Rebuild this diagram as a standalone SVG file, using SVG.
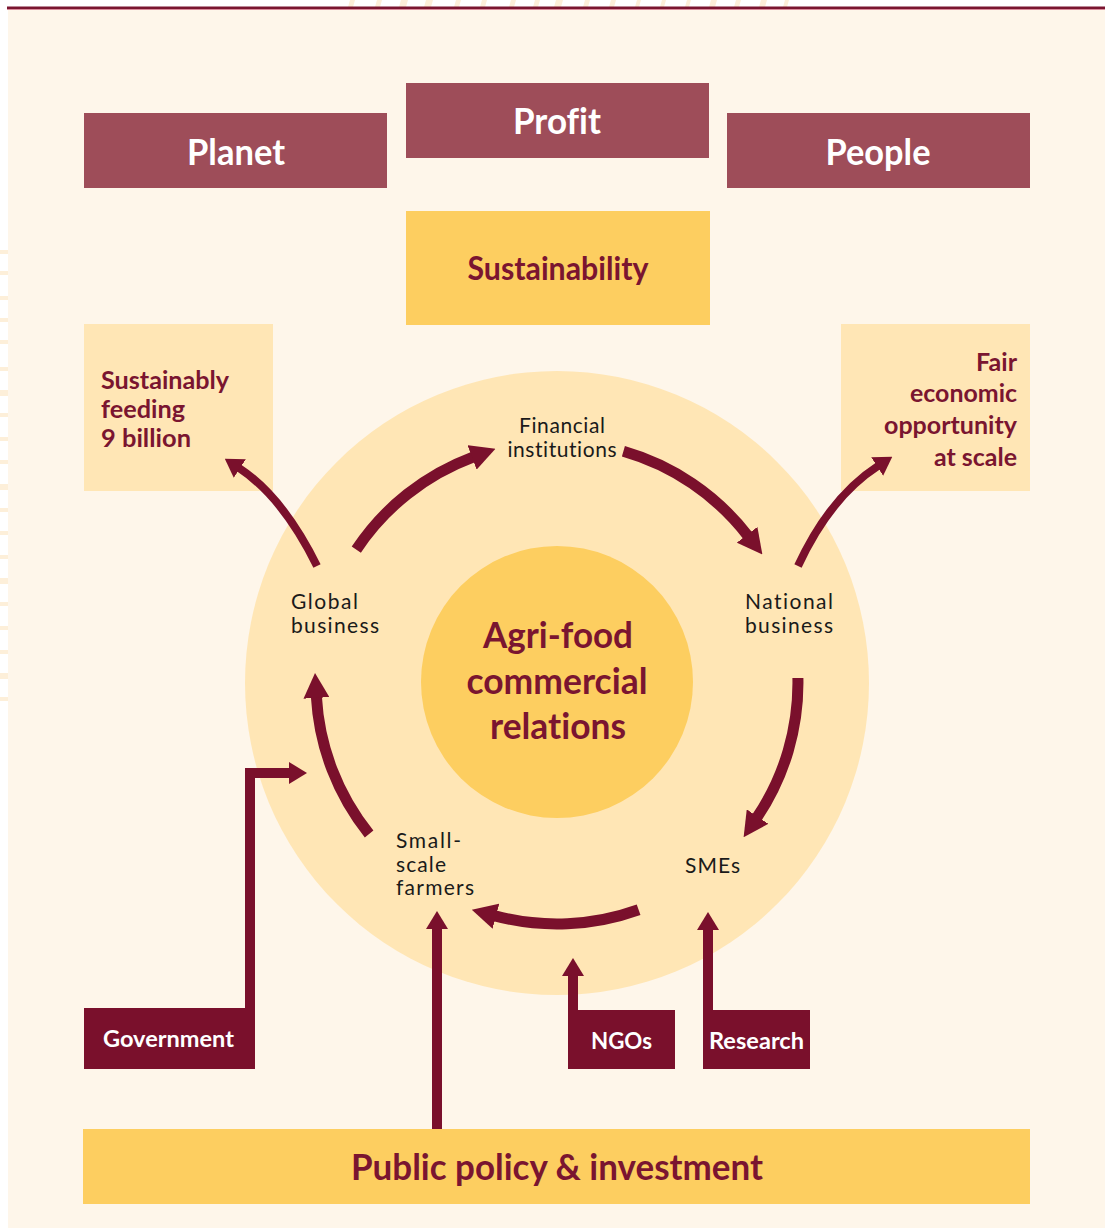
<svg xmlns="http://www.w3.org/2000/svg" width="1105" height="1228" viewBox="0 0 1105 1228">
  <defs>
    <style>
      text { font-variant-ligatures: none; }
      .band { fill: #9E4D59; }
      .gold { fill: #FDCE60; }
      .pale { fill: #FFE6B5; }
      .dark { fill: #7A102C; }
      .hw { font-family: Lato, "Noto Sans", sans-serif; font-weight: 700; fill: #FFFFFF; }
      .hm { font-family: Lato, "Noto Sans", sans-serif; font-weight: 700; fill: #7A1530; }
      .lbl { font-family: Lato, "Noto Sans", sans-serif; font-size: 21px; fill: #1A1A1A; }
      .arc { fill: none; stroke: #7A102C; stroke-width: 11; }
      .thin { fill: none; stroke: #7A102C; stroke-width: 8; }
      .bar { fill: none; stroke: #7A102C; stroke-width: 10; }
      .stripe { fill: #FDEFD9; }
    </style>
    <marker id="head" markerUnits="userSpaceOnUse" viewBox="0 0 25 26" markerWidth="25" markerHeight="26" refX="1" refY="13" orient="auto">
      <path d="M0,0 L25,13 L0,26 Z" fill="#7A102C"/>
    </marker>
    <marker id="headS" markerUnits="userSpaceOnUse" viewBox="0 0 18 22" markerWidth="18" markerHeight="22" refX="1" refY="11" orient="auto">
      <path d="M0,0 L18,11 L0,22 Z" fill="#7A102C"/>
    </marker>
  </defs>

  <!-- background -->
  <rect x="0" y="0" width="1105" height="1228" fill="#FFFFFF"/>
  <g id="decor">
    <g class="stripe">
      <path d="M350,0 h5 l-2,7 h-5 Z"/><path d="M377,0 h5 l-2,7 h-5 Z"/><path d="M401,0 h7 l-2,7 h-7 Z"/>
      <path d="M426,0 h7 l-2,7 h-7 Z"/><path d="M456,0 h5 l-2,7 h-5 Z"/><path d="M482,0 h5 l-2,7 h-5 Z"/>
      <path d="M511,0 h5 l-2,7 h-5 Z"/><path d="M535,0 h5 l-2,7 h-5 Z"/><path d="M556,0 h7 l-2,7 h-7 Z"/>
      <path d="M585,0 h5 l-2,7 h-5 Z"/><path d="M611,0 h5 l-2,7 h-5 Z"/><path d="M637,0 h4 l-2,7 h-4 Z"/>
      <path d="M662,0 h4 l-2,7 h-4 Z"/><path d="M687,0 h4 l-2,7 h-4 Z"/><path d="M711,0 h6 l-2,7 h-6 Z"/>
      <path d="M736,0 h5 l-2,7 h-5 Z"/><path d="M761,0 h6 l-2,7 h-6 Z"/><path d="M785,0 h4 l-2,7 h-4 Z"/>
      <rect x="0" y="250" width="8" height="4"/><rect x="0" y="271" width="8" height="4"/><rect x="0" y="296" width="8" height="4"/>
      <rect x="0" y="318" width="8" height="4"/><rect x="0" y="340" width="8" height="4"/><rect x="0" y="367" width="8" height="4"/>
      <rect x="0" y="390" width="8" height="6"/><rect x="0" y="413" width="8" height="4"/><rect x="0" y="437" width="8" height="4"/>
      <rect x="0" y="460" width="8" height="4"/><rect x="0" y="484" width="8" height="6"/><rect x="0" y="508" width="8" height="4"/>
      <rect x="0" y="531" width="8" height="4"/><rect x="0" y="555" width="8" height="4"/><rect x="0" y="578" width="8" height="6"/>
      <rect x="0" y="602" width="8" height="4"/><rect x="0" y="626" width="8" height="4"/><rect x="0" y="650" width="8" height="4"/>
      <rect x="0" y="673" width="8" height="6"/><rect x="0" y="697" width="8" height="4"/>
    </g>
  </g>
  <rect x="8" y="10" width="1097" height="1218" fill="#FEF6EA"/>
  <rect x="7" y="6.5" width="1098" height="2.5" fill="#7A1530"/>
  <rect x="7" y="9" width="1098" height="1" fill="#D98A9A"/>

  <!-- circles -->
  <g id="outer-circle"><circle cx="557" cy="683" r="312" class="pale"/></g>
  <g id="core">
    <circle cx="557" cy="682" r="136" class="gold"/>
    <text class="hm" font-size="37" text-anchor="middle" x="558" y="648" textLength="150" lengthAdjust="spacingAndGlyphs">Agri-food</text>
    <text class="hm" font-size="37" text-anchor="middle" x="557" y="694" textLength="181" lengthAdjust="spacingAndGlyphs">commercial</text>
    <text class="hm" font-size="37" text-anchor="middle" x="558" y="739" textLength="136" lengthAdjust="spacingAndGlyphs">relations</text>
  </g>

  <!-- top boxes -->
  <g id="planet">
    <rect x="84" y="113" width="303" height="75" class="band"/>
    <text class="hw" font-size="37" text-anchor="middle" x="236" y="165" textLength="98" lengthAdjust="spacingAndGlyphs">Planet</text>
  </g>
  <g id="profit">
    <rect x="406" y="83" width="303" height="75" class="band"/>
    <text class="hw" font-size="37" text-anchor="middle" x="557" y="134" textLength="88" lengthAdjust="spacingAndGlyphs">Profit</text>
  </g>
  <g id="people">
    <rect x="727" y="113" width="303" height="75" class="band"/>
    <text class="hw" font-size="37" text-anchor="middle" x="878" y="165" textLength="105" lengthAdjust="spacingAndGlyphs">People</text>
  </g>
  <g id="sustainability">
    <rect x="406" y="211" width="304" height="114" class="gold"/>
    <text class="hm" font-size="32" text-anchor="middle" x="558" y="280" textLength="181" lengthAdjust="spacingAndGlyphs">Sustainability</text>
  </g>

  <!-- side boxes -->
  <g id="feeding">
    <rect x="84" y="324" width="189" height="167" class="pale"/>
    <text class="hm" font-size="24" x="101" y="389" textLength="128" lengthAdjust="spacingAndGlyphs">Sustainably</text>
    <text class="hm" font-size="24" x="101" y="418" textLength="84" lengthAdjust="spacingAndGlyphs">feeding</text>
    <text class="hm" font-size="24" x="101" y="447" textLength="90" lengthAdjust="spacingAndGlyphs">9 billion</text>
  </g>
  <g id="fair">
    <rect x="841" y="324" width="189" height="167" class="pale"/>
    <text class="hm" font-size="24" text-anchor="end" x="1017" y="371" textLength="41" lengthAdjust="spacingAndGlyphs">Fair</text>
    <text class="hm" font-size="24" text-anchor="end" x="1017" y="402" textLength="107" lengthAdjust="spacingAndGlyphs">economic</text>
    <text class="hm" font-size="24" text-anchor="end" x="1017" y="434" textLength="133" lengthAdjust="spacingAndGlyphs">opportunity</text>
    <text class="hm" font-size="24" text-anchor="end" x="1017" y="466" textLength="83" lengthAdjust="spacingAndGlyphs">at scale</text>
  </g>

  <!-- actor labels -->
  <g id="financial">
    <text class="lbl" text-anchor="middle" x="562" y="433" textLength="86">Financial</text>
    <text class="lbl" text-anchor="middle" x="562" y="457" textLength="109">institutions</text>
  </g>
  <g id="global">
    <text class="lbl" x="291" y="609" textLength="67">Global</text>
    <text class="lbl" x="291" y="633" textLength="88">business</text>
  </g>
  <g id="national">
    <text class="lbl" x="745" y="609" textLength="88">National</text>
    <text class="lbl" x="745" y="633" textLength="88">business</text>
  </g>
  <g id="farmers">
    <text class="lbl" x="396" y="848" textLength="65">Small-</text>
    <text class="lbl" x="396" y="872" textLength="50">scale</text>
    <text class="lbl" x="396" y="895" textLength="78">farmers</text>
  </g>
  <g id="smes">
    <text class="lbl" x="685" y="873" textLength="55">SMEs</text>
  </g>

  <!-- bottom boxes -->
  <g id="government">
    <rect x="84" y="1008" width="171" height="61" class="dark"/>
    <text class="hw" font-size="22" x="103" y="1047" textLength="131" lengthAdjust="spacingAndGlyphs">Government</text>
  </g>
  <g id="ngos">
    <rect x="568" y="1010" width="107" height="59" class="dark"/>
    <text class="hw" font-size="22" x="591" y="1049" textLength="61" lengthAdjust="spacingAndGlyphs">NGOs</text>
  </g>
  <g id="research">
    <rect x="703" y="1010" width="107" height="59" class="dark"/>
    <text class="hw" font-size="22" x="709" y="1049" textLength="95" lengthAdjust="spacingAndGlyphs">Research</text>
  </g>
  <g id="public-policy">
    <rect x="83" y="1129" width="947" height="75" class="gold"/>
    <text class="hm" font-size="36" text-anchor="middle" x="557" y="1180" textLength="412" lengthAdjust="spacingAndGlyphs">Public policy &amp; investment</text>
  </g>

  <!-- connectors -->
  <g id="connectors">
    <path class="arc" d="M356.3,549.6 A241,241 0 0 1 473,457.1" marker-end="url(#head)"/>
    <path class="arc" d="M623.4,451.3 A241,241 0 0 1 747.7,535.6" marker-end="url(#head)"/>
    <path class="arc" d="M797.9,678 A241,241 0 0 1 757,817.4" marker-end="url(#head)"/>
    <path class="arc" d="M638.6,909.8 A241,241 0 0 1 495,915.9" marker-end="url(#head)"/>
    <path class="arc" d="M369.1,834 A241,241 0 0 1 316.4,696.9" marker-end="url(#head)"/>
    <path class="thin" d="M317,566 Q283,497 239,468" marker-end="url(#headS)"/>
    <path class="thin" d="M798,566 Q830,497 878,466" marker-end="url(#headS)"/>
    <path class="bar" d="M250,1008 V773 H290" marker-end="url(#headS)"/>
    <path class="bar" d="M437,1129 V928" marker-end="url(#headS)"/>
    <path class="bar" d="M573,1010 V975" marker-end="url(#headS)"/>
    <path class="bar" d="M708,1010 V929" marker-end="url(#headS)"/>
  </g>
</svg>
